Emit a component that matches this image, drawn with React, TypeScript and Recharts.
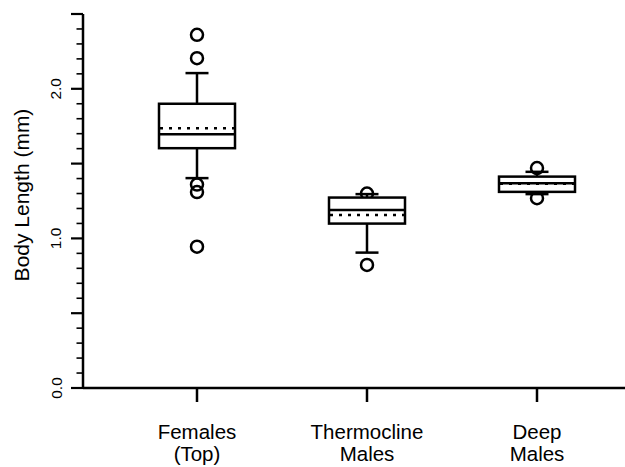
import { Bar, ComposedChart, Scatter, XAxis, YAxis } from "recharts";

const FONT = "Arial, 'Liberation Sans', Helvetica, sans-serif";

// box plot summary per group
const categories = ["Females\n(Top)", "Thermocline\nMales", "Deep\nMales"];
const q1 = [1.603, 1.099, 1.311];
const median = [1.697, 1.19, 1.369];
const q3 = [1.9, 1.273, 1.413];
const mean = [1.737, 1.157, 1.365];
const whiskerLow = [1.403, 0.905, 1.296];
const whiskerHigh = [2.105, 1.296, 1.445];

// points beyond the whiskers
const outlierGroup = [0, 0, 0, 0, 0, 1, 1, 2, 2];
const outlierValue = [2.361, 2.205, 1.36, 1.31, 0.945, 1.3, 0.823, 1.47, 1.269];

const yTicks = [
  0, 0.1, 0.2, 0.3, 0.4, 0.5, 0.6, 0.7, 0.8, 0.9, 1, 1.1, 1.2, 1.3, 1.4, 1.5,
  1.6, 1.7, 1.8, 1.9, 2, 2.1, 2.2, 2.3, 2.4, 2.5,
];
const majorTicks = [0, 0.5, 1, 1.5, 2, 2.5];
const labelTicks = [0, 1, 2];

const boxData = categories.map((cat, i) => ({
  cat,
  q1: q1[i],
  median: median[i],
  q3: q3[i],
  mean: mean[i],
  lo: whiskerLow[i],
  hi: whiskerHigh[i],
}));

const outliers = outlierGroup.map((g, i) => ({ cat: categories[g], value: outlierValue[i] }));

const near = (list: number[], v: number) => list.some((t) => Math.abs(t - v) < 1e-6);

const LW = 2.5;

function BoxShape(props: any) {
  const { x, y, width, height, payload } = props;
  const top = Math.min(y, y + height);
  const bottom = Math.max(y, y + height);
  // same linear scale the bar was placed with
  const k = (bottom - top) / (payload.q3 - payload.q1);
  const py = (v: number) => bottom - (v - payload.q1) * k;
  const cx = x + width / 2;
  const cap = 11.5;
  const s = { stroke: "#000", strokeWidth: LW };
  return (
    <g>
      <line x1={cx} x2={cx} y1={top} y2={py(payload.hi)} {...s} />
      <line x1={cx} x2={cx} y1={bottom} y2={py(payload.lo)} {...s} />
      <line x1={cx - cap} x2={cx + cap} y1={py(payload.hi)} y2={py(payload.hi)} {...s} />
      <line x1={cx - cap} x2={cx + cap} y1={py(payload.lo)} y2={py(payload.lo)} {...s} />
      <rect x={x} y={top} width={width} height={bottom - top} fill="#fff" {...s} />
      <line x1={x} x2={x + width} y1={py(payload.median)} y2={py(payload.median)} {...s} />
      <line
        x1={x + 1}
        x2={x + width}
        y1={py(payload.mean)}
        y2={py(payload.mean)}
        stroke="#000"
        strokeWidth={LW}
        strokeDasharray="3 6"
      />
    </g>
  );
}

function Outlier(props: any) {
  return <circle cx={props.cx} cy={props.cy} r={6} fill="none" stroke="#000" strokeWidth={LW} />;
}

function YTick(props: any) {
  const { x, y, payload } = props;
  const v = payload.value as number;
  const major = near(majorTicks, v);
  const len = major ? 12 : 6.5;
  const tx = x - 21.5;
  return (
    <g>
      <line x1={x - len} x2={x} y1={y} y2={y} stroke="#000" strokeWidth={major ? 2.2 : 1.6} />
      {near(labelTicks, v) && (
        <text
          x={tx}
          y={y}
          transform={`rotate(-90 ${tx} ${y})`}
          textAnchor="middle"
          fontSize={15.5}
          fontFamily={FONT}
          fill="#000"
        >
          {v.toFixed(1)}
        </text>
      )}
    </g>
  );
}

function XTick(props: any) {
  const { x, y, payload } = props;
  const lines = String(payload.value).split("\n");
  return (
    <g>
      <line x1={x} x2={x} y1={y} y2={y + 14} stroke="#000" strokeWidth={LW} />
      {lines.map((t, i) => (
        <text
          key={i}
          x={x}
          y={y + 50.5 + i * 22.4}
          textAnchor="middle"
          fontSize={20.5}
          fontFamily={FONT}
          fill="#000"
        >
          {t}
        </text>
      ))}
    </g>
  );
}

function YLabel(props: any) {
  const { viewBox } = props;
  const tx = 28.5;
  const ty = viewBox.y + viewBox.height / 2 - 6;
  return (
    <text
      x={tx}
      y={ty}
      transform={`rotate(-90 ${tx} ${ty})`}
      textAnchor="middle"
      fontSize={21}
      fontFamily={FONT}
      fill="#000"
    >
      Body Length (mm)
    </text>
  );
}

export default function App() {
  return (
    <div style={{ position: "absolute", left: 0, top: 0, background: "#fff", fontFamily: FONT }}>
      <ComposedChart
        width={625}
        height={467}
        data={boxData}
        margin={{ top: 14, right: 0, bottom: 0, left: 0 }}
      >
        <XAxis
          dataKey="cat"
          type="category"
          allowDuplicatedCategory={false}
          padding={{ left: 29, right: 3 }}
          height={79}
          interval={0}
          tickLine={false}
          tickSize={0}
          tickMargin={0}
          axisLine={{ stroke: "#000", strokeWidth: LW }}
          tick={<XTick />}
        />
        <YAxis
          type="number"
          domain={[0, 2.5]}
          ticks={yTicks}
          interval={0}
          width={83}
          tickLine={false}
          tickSize={0}
          tickMargin={0}
          axisLine={{ stroke: "#000", strokeWidth: LW }}
          tick={<YTick />}
          label={<YLabel />}
        />
        <Scatter
          data={outliers}
          dataKey="value"
          shape={<Outlier />}
          isAnimationActive={false}
          zIndex={100}
        />
        <Bar
          dataKey={(d: any) => [d.q1, d.q3]}
          barSize={76}
          shape={<BoxShape />}
          isAnimationActive={false}
          zIndex={300}
        />
      </ComposedChart>
    </div>
  );
}
